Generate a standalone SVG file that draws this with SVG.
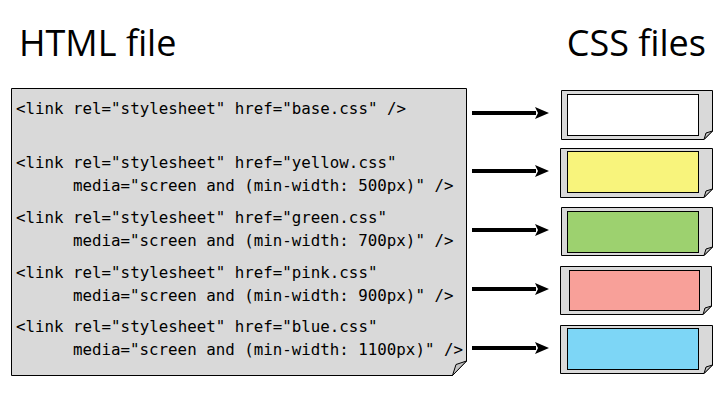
<svg xmlns="http://www.w3.org/2000/svg" width="726" height="395" viewBox="0 0 726 395">
<style>
.title{font-family:"Open Sans","Liberation Sans",sans-serif;font-size:36px;fill:#000}
.code{font-family:"DejaVu Sans Mono","Liberation Mono",monospace;font-size:15.8px;fill:#000}
.page{fill:#d9d9d9;stroke:#000;stroke-width:1}
.fold{fill:#c4c4c4;stroke:#000;stroke-width:1;stroke-linejoin:round}
.inner{stroke:#000;stroke-width:1}
.conn{stroke:#000;stroke-width:4;fill:none}
</style>
<defs>
<marker id="ah" viewBox="0 0 14 12" refX="1" refY="6" markerWidth="14" markerHeight="12" markerUnits="userSpaceOnUse" orient="auto">
<path d="M0,0 L14,6 L0,12 L3,6 Z" fill="#000"/>
</marker>
</defs>
<rect width="726" height="395" fill="#fff"/>
<g id="title-html"><text class="title" x="19" y="56">HTML file</text></g>
<g id="title-css"><text class="title" x="706" y="56" text-anchor="end">CSS files</text></g>

<g id="html-file">
<path class="page" d="M11.5,88.5 H466.5 V361 L452.5,375.5 H11.5 Z"/>
<path class="fold" d="M452.5,375.5 L466.5,361 L456,364.5 Z"/>
<text class="code" x="16" y="114">&lt;link rel="stylesheet" href="base.css" /&gt;</text>
<text class="code" x="16" y="168">&lt;link rel="stylesheet" href="yellow.css"</text>
<text class="code" x="73" y="191">media="screen and (min-width: 500px)" /&gt;</text>
<text class="code" x="16" y="223">&lt;link rel="stylesheet" href="green.css"</text>
<text class="code" x="73" y="246">media="screen and (min-width: 700px)" /&gt;</text>
<text class="code" x="16" y="278">&lt;link rel="stylesheet" href="pink.css"</text>
<text class="code" x="73" y="301">media="screen and (min-width: 900px)" /&gt;</text>
<text class="code" x="16" y="332">&lt;link rel="stylesheet" href="blue.css"</text>
<text class="code" x="73" y="355">media="screen and (min-width: 1100px)" /&gt;</text>
</g>

<g id="connectors">
<line class="conn" x1="472" y1="113" x2="536" y2="113" marker-end="url(#ah)"/>
<line class="conn" x1="472" y1="171" x2="536" y2="171" marker-end="url(#ah)"/>
<line class="conn" x1="472" y1="230" x2="536" y2="230" marker-end="url(#ah)"/>
<line class="conn" x1="472" y1="289" x2="536" y2="289" marker-end="url(#ah)"/>
<line class="conn" x1="472" y1="348" x2="536" y2="348" marker-end="url(#ah)"/>
</g>

<g id="css-base">
<path class="page" d="M561.5,90.5 H712.5 V131 L704,139.5 H561.5 Z"/>
<path class="fold" d="M704,139.5 L712.5,131 L706,133 Z"/>
<rect class="inner" x="567.5" y="94.5" width="131" height="41" fill="#ffffff"/>
</g>
<g id="css-yellow">
<path class="page" d="M560.5,148.5 H712.5 V189 L704,197.5 H560.5 Z"/>
<path class="fold" d="M704,197.5 L712.5,189 L706,191 Z"/>
<rect class="inner" x="567.5" y="151.5" width="131" height="41" fill="#f8f47c"/>
</g>
<g id="css-green">
<path class="page" d="M561.5,207.5 H712.5 V247 L704,255.5 H561.5 Z"/>
<path class="fold" d="M704,255.5 L712.5,247 L706,249 Z"/>
<rect class="inner" x="567.5" y="211.5" width="131" height="41" fill="#9dd16f"/>
</g>
<g id="css-pink">
<path class="page" d="M560.5,266.5 H711.5 V306 L703,314.5 H560.5 Z"/>
<path class="fold" d="M703,314.5 L711.5,306 L705,308 Z"/>
<rect class="inner" x="569.5" y="270.5" width="130" height="40" fill="#f8a099"/>
</g>
<g id="css-blue">
<path class="page" d="M560.5,325.5 H712.5 V365 L704,373.5 H560.5 Z"/>
<path class="fold" d="M704,373.5 L712.5,365 L706,367 Z"/>
<rect class="inner" x="567.5" y="328.5" width="131" height="41" fill="#7dd6f6"/>
</g>
</svg>
